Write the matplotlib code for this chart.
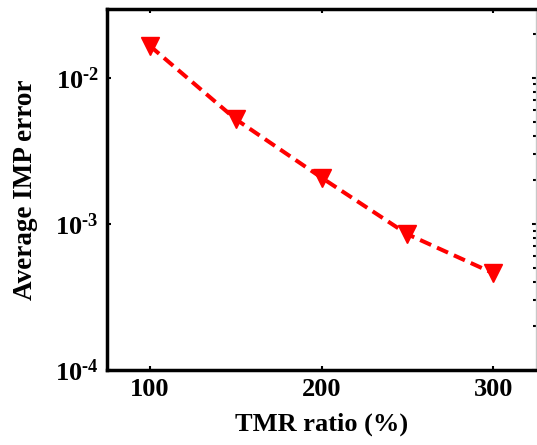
import matplotlib
matplotlib.use("Agg")
import matplotlib.pyplot as plt
from matplotlib.ticker import FixedLocator, FixedFormatter, LogLocator, NullFormatter

# TMR ratio sweep and the resulting average IMP error
tmr_ratio = [100, 150, 200, 250, 300]
imp_error = [0.0165, 0.0052, 0.00207, 0.00085, 0.00046]

x_ticks = [100, 200, 300]
y_ticks = [1e-4, 1e-3, 1e-2]
y_tick_labels = [r"$\mathbf{10^{\text{-}4}}$", r"$\mathbf{10^{\text{-}3}}$", r"$\mathbf{10^{\text{-}2}}$"]

plt.rcParams["font.family"] = "Liberation Serif"
plt.rcParams["font.weight"] = "bold"
plt.rcParams["mathtext.fontset"] = "custom"
plt.rcParams["mathtext.rm"] = "Liberation Serif:bold"
plt.rcParams["mathtext.bf"] = "Liberation Serif:bold"
plt.rcParams["mathtext.it"] = "Liberation Serif:bold:italic"

W, H = 537, 445
fig = plt.figure(figsize=(W / 100, H / 100), dpi=100)
left, right, top, bottom = 107, 536, 9, 370
ax = fig.add_axes([left / W, (H - bottom) / H, (right - left) / W, (bottom - top) / H])

ax.plot(tmr_ratio, imp_error, color="#ff0000", linestyle=(0, (3.0, 1.6)), linewidth=2.9,
        marker="v", markersize=13, markerfacecolor="#ff0000", markeredgecolor="#ff0000")

ax.set_yscale("log")
ax.set_xlim(75, 325)
ax.set_ylim(1e-4, 0.0295)

ax.xaxis.set_major_locator(FixedLocator(x_ticks))
ax.yaxis.set_major_locator(FixedLocator(y_ticks))
ax.yaxis.set_major_formatter(FixedFormatter(y_tick_labels))
ax.yaxis.set_minor_formatter(NullFormatter())

ax.tick_params(axis="both", which="major", direction="in", length=3, width=1.5,
               labelsize=19, pad=6, top=True, right=True)
ax.tick_params(axis="y", which="minor", direction="in", length=2.5, width=1.5,
               left=False, right=True)
ax.yaxis.set_minor_locator(LogLocator(base=10, subs=range(2, 10)))

for side in ("left", "bottom", "top"):
    ax.spines[side].set_linewidth(2.5)
    ax.spines[side].set_color("black")
ax.spines["right"].set_linewidth(1.0)
ax.spines["right"].set_color("#c8c8c8")

ax.set_xlabel("TMR ratio (%)", fontsize=19, fontweight="bold", labelpad=8)
ax.set_ylabel("Average IMP error", fontsize=19.5, fontweight="bold", labelpad=12)

fig.savefig("out.png", dpi=100)
